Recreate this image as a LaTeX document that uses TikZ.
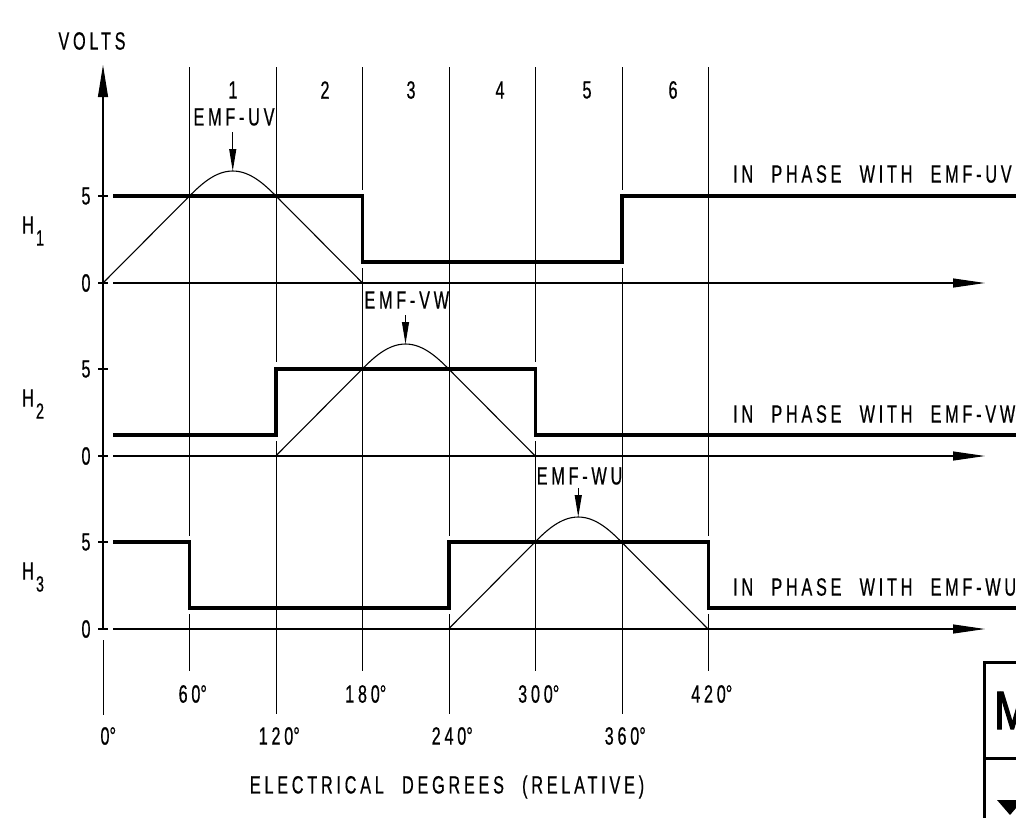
\documentclass[tikz,border=0pt]{standalone}
\usepackage{fontspec}
\usetikzlibrary{arrows.meta}
\newfontfamily\cadfont[FakeStretch=0.65,LetterSpace=15,WordSpace=2.2,FakeBold=0.5]{Liberation Sans}
\newfontfamily\mfont[FakeStretch=0.8,FakeBold=2]{Liberation Sans}
\begin{document}
\begin{tikzpicture}[x=1pt,y=-1pt,
  gridln/.style={line width=1pt},
  thinln/.style={line width=1.1pt},
  sig/.style={line width=3.6pt},
  txt/.style={font=\cadfont\fontsize{25}{25}\selectfont, inner sep=0pt},
  subtxt/.style={font=\cadfont\fontsize{22}{22}\selectfont, inner sep=0pt},
  xarrow/.style={-{Triangle[length=32pt,width=9pt]}},
  yarrow/.style={-{Triangle[length=32pt,width=10pt]}},
  emfarrow/.style={-{Triangle[length=22pt,width=7pt]}},
  boxln/.style={line width=3.5pt},
]
\useasboundingbox (0,0) rectangle (1016,817);
\clip (0,0) rectangle (1016,817);

% vertical grid lines (with gaps at the signal edges)
\foreach \x/\ya/\yb/\ye in {189.5/536/614/671, 276/362/441/714, 362.5/190/268/671,
  449/536/614/714, 535.5/362/441/671, 622/190/268/714, 708.5/536/614/671}{
  \draw[gridln] (\x,67) -- (\x,\ya) (\x,\yb) -- (\x,\ye);
}

% vertical axis
\coordinate (ybot) at (103,628);
\coordinate (ytop) at (103,65);
\draw[thinln, yarrow] (ybot) -- (ytop);
\draw[gridln] (103,640) -- (103,715);
\node[txt] (volts) at (92,41) {VOLTS};

% three channels: ticks, axes, labels
\foreach \k/\s in {0/1,1/2,2/3}{
  \begin{scope}[shift={(0,173*\k)}]
    \draw[thinln] (98,196) -- (108,196);
    \draw[thinln] (98,283) -- (108,283);
    \coordinate (xs\s) at (113,283);
    \coordinate (xe\s) at (985,283);
    \draw[thinln, xarrow] (xs\s) -- (xe\s);
    \node[txt] (five\s) at (86,196) {5};
    \node[txt] (zero\s) at (86,283) {0};
    \node[txt] (h\s) at (28,225) {H};
    \node[subtxt] (hs\s) at (40,238) {\s};
  \end{scope}
}

% EMF waveforms (triangle with rounded top)
\foreach \k/\n/\ly/\ty in {0/UV/117/132,1/VW/127/142,2/WU/130/142}{
  \begin{scope}[shift={(172.75*\k,173*\k)}]
    \draw[thinln] (103,283) -- (189.5,196)
      .. controls (200.5,185) and (215,171) .. (232.75,171)
      .. controls (250.5,171) and (265,185) .. (276,196) -- (362.5,283);
    \node[txt] (emf\n) at (234,\ly) {EMF-\n};
    \coordinate (peak\n) at (232.75,171);
    \coordinate (tail\n) at (232.75,\ty);
    \draw[thinln, emfarrow] (tail\n) -- (peak\n);
  \end{scope}
}

% Hall signals
\draw[sig] (113,196) -- (362.5,196) -- (362.5,262) -- (622,262) -- (622,196) -- (1030,196);
\draw[sig] (113,435) -- (276,435) -- (276,369) -- (535.5,369) -- (535.5,435) -- (1030,435);
\draw[sig] (113,542) -- (189.5,542) -- (189.5,608) -- (449,608) -- (449,542)
  -- (708.5,542) -- (708.5,608) -- (1030,608);

\node[txt, anchor=west] (ph1) at (733,174) {IN PHASE WITH EMF-UV};
\node[txt, anchor=west] (ph2) at (733,414) {IN PHASE WITH EMF-VW};
\node[txt, anchor=west] (ph3) at (733,587) {IN PHASE WITH EMF-WU};

% sector numbers
\foreach \x/\n in {233/1,325/2,411/3,500/4,587/5,673/6}{
  \node[txt] (sec\n) at (\x,90) {\n};
}

% degree labels
\foreach \x/\d in {189.5/60,362.5/180,535.5/300,708.5/420}{
  \node[txt] (deg\d) at (\x,694) {\d\rlap{°}};
}
\foreach \x/\d in {105/0,276/120,449/240,622/360}{
  \node[txt] (deg\d) at (\x,736) {\d\rlap{°}};
}
\node[txt] (xtitle) at (447,787) {ELECTRICAL DEGREES (RELATIVE)};

% title block fragment at lower right
\draw[boxln] (1030,662.5) -- (984.5,662.5) -- (984.5,830);
\draw[boxln] (984.5,758.5) -- (1030,758.5);
\node[font=\mfont\fontsize{54}{54}\selectfont, inner sep=0pt, anchor=base west] (mm) at (994,729) {M};
\fill (997,800) -- (1023,800) -- (1010,815) -- cycle;
\end{tikzpicture}
\end{document}
